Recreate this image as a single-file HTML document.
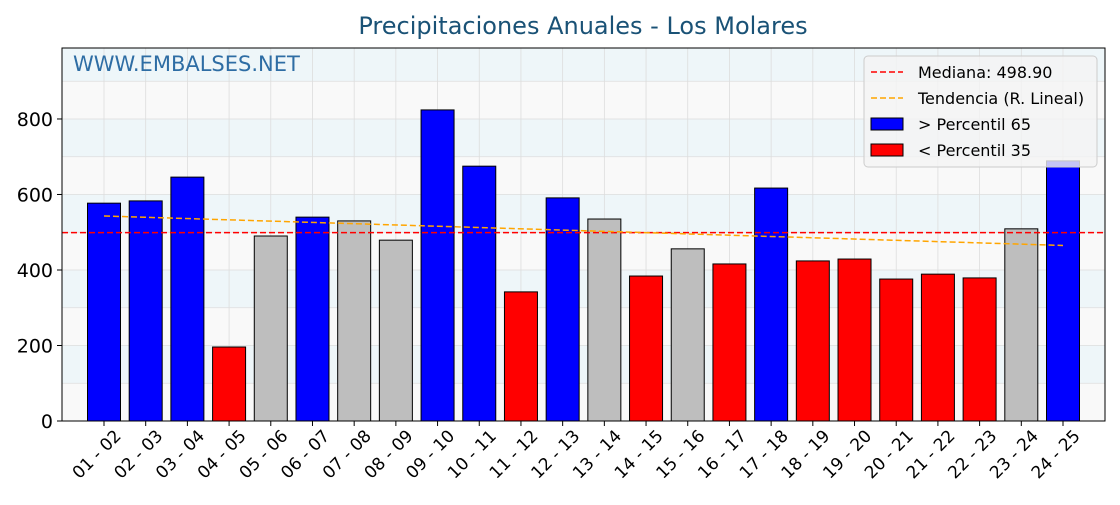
<!DOCTYPE html>
<html><head><meta charset="utf-8"><style>
body{margin:0;background:#fff;font-family:"Liberation Sans","DejaVu Sans",sans-serif}
svg text{font-family:"DejaVu Sans","Liberation Sans",sans-serif}
</style></head><body>
<svg id="chart" width="1120" height="500" xmlns="http://www.w3.org/2000/svg">
<text x="583" y="34" text-anchor="middle" font-size="24" fill="#1a5276">Precipitaciones Anuales - Los Molares</text>
<g id="plot"></g>
</svg>
<script>
const categories=["01 - 02","02 - 03","03 - 04","04 - 05","05 - 06","06 - 07","07 - 08","08 - 09","09 - 10","10 - 11","11 - 12","12 - 13","13 - 14","14 - 15","15 - 16","16 - 17","17 - 18","18 - 19","19 - 20","20 - 21","21 - 22","22 - 23","23 - 24","24 - 25"];
const values=[577,583,646,196,490,540,530,479,824,675,342,591,535,384,456,416,617,424,429,376,389,379,509,689];
const classes=["h","h","h","l","m","h","m","m","h","h","l","h","m","l","m","l","h","l","l","l","l","l","m","h"];
const yTicks=[0,200,400,600,800];
const median=498.9;
const trendStart=543, trendEnd=465;

const NS="http://www.w3.org/2000/svg";
const L=62,R=1105,T=48,B=421,yMax=988;
const y=v=>B-(v/yMax)*(B-T);
const x0=104,x1=1063;
const x=i=>x0+i*(x1-x0)/(categories.length-1);
const g=document.getElementById('plot');
function mk(t,a){const e=document.createElementNS(NS,t);for(const k in a)e.setAttribute(k,a[k]);g.appendChild(e);return e;}
for(let v=0;v<yMax;v+=100){
 const b=mk('rect',{x:L,y:y(Math.min(v+100,yMax)),width:R-L,height:y(v)-y(Math.min(v+100,yMax)),fill:(v/100)%2?'#eef6f9':'#f9f9f9'});
 
 
}
for(let v=100;v<yMax;v+=100){const l=mk('line',{x1:L,x2:R,y1:y(v),y2:y(v),stroke:'#ddd','stroke-width':0.8});
 }
categories.forEach((c,i)=>{const l=mk('line',{x1:x(i),x2:x(i),y1:T,y2:B,stroke:'#ddd','stroke-width':0.8});
 });
const col={h:'#0000ff',l:'#ff0000',m:'#bebebe'};
const bw=33;
categories.forEach((c,i)=>{
 const r=mk('rect',{x:x(i)-bw/2,y:y(values[i]),width:bw,height:B-y(values[i]),fill:col[classes[i]],stroke:'#000','stroke-width':1});
 
 
 const t=mk('text',{x:0,y:0,'font-size':17,'text-anchor':'end',transform:`translate(${x(i)+18},${B+16}) rotate(-45)`});
 t.textContent=c;
 
 
});
const m=mk('line',{x1:L,x2:R,y1:y(median),y2:y(median),stroke:'#ff0000','stroke-width':1.5,'stroke-dasharray':'6,3'});

const tr=mk('line',{x1:x(0),x2:x(categories.length-1),y1:y(trendStart),y2:y(trendEnd),stroke:'#ffa500','stroke-width':1.5,'stroke-dasharray':'6,3'});

const fr=mk('rect',{x:L,y:T,width:R-L,height:B-T,fill:'none',stroke:'#000','stroke-width':1});

yTicks.forEach(v=>{mk('line',{x1:L-5,x2:L,y1:y(v),y2:y(v),stroke:'#000'});
 const t=mk('text',{x:L-9,y:y(v)+7,'font-size':19,'text-anchor':'end'});t.textContent=v;
 });
categories.forEach((c,i)=>mk('line',{x1:x(i),x2:x(i),y1:B,y2:B+5,stroke:'#000'}));
const wm=mk('text',{x:73,y:71,'font-size':21,fill:'#2e6da4'});wm.textContent='WWW.EMBALSES.NET';

const lg=mk('rect',{x:864,y:56,width:233,height:111,rx:4,fill:'#f4f4f4','fill-opacity':0.8,stroke:'#ccc'});

const items=[['line','#ff0000','Mediana: 498.90'],['line','#ffa500','Tendencia (R. Lineal)'],['rect','#0000ff',' > Percentil 65'],['rect','#ff0000',' < Percentil 35']];
items.forEach((it,k)=>{const yy=72+k*26;
 if(it[0]=='line')mk('line',{x1:871,x2:903,y1:yy,y2:yy,stroke:it[1],'stroke-width':1.5,'stroke-dasharray':'6,3'});
 else mk('rect',{x:871,y:yy-6,width:32,height:12,fill:it[1],stroke:'#000'});
 const t=mk('text',{x:918,y:yy+6,'font-size':16,'xml:space':'preserve'});t.textContent=it[2];
 });
</script>
</body></html>
